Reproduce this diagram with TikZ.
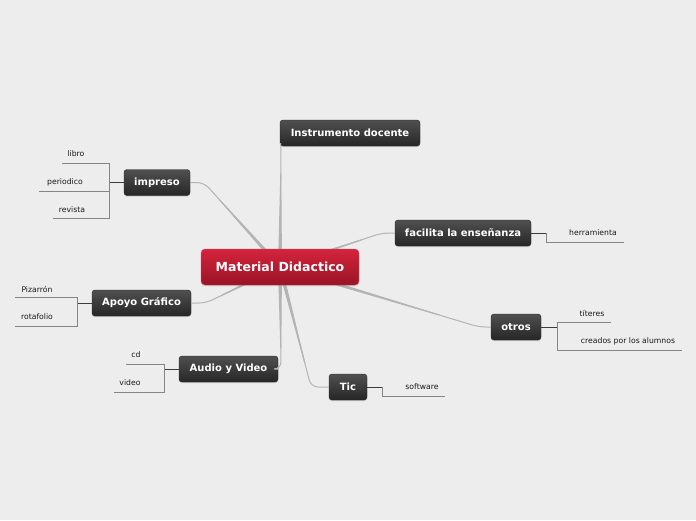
\documentclass[tikz,border=0pt]{standalone}
\usepackage{fontspec}
\setmainfont{DejaVu Sans}
\usetikzlibrary{calc,shadows}
\definecolor{bg}{HTML}{EDEDED}
\definecolor{linkgray}{HTML}{B4B4B4}
\definecolor{stemgray}{HTML}{858585}
\definecolor{stemdark}{HTML}{3C3C3C}
\definecolor{boxtop}{HTML}{505050}
\definecolor{boxbot}{HTML}{262626}
\definecolor{redtop}{HTML}{D4243C}
\definecolor{redbot}{HTML}{9A1326}
\definecolor{redrim}{HTML}{E04A5C}
% tapered link from the centre to a bend point, then on to a branch
\newcommand{\mlink}[2]{%
  \coordinate (tp) at ($(mc)!0.8!(#1)$);
  \fill[linkgray] ($(mc)!2pt!90:(tp)$) -- ($(tp)!0.5pt!-90:(mc)$)
    -- ($(tp)!0.5pt!90:(mc)$) -- ($(mc)!2pt!-90:(tp)$) -- cycle;
  \draw[link] (mc) -- (#1) -- (#2);}
\begin{document}
\begin{tikzpicture}[x=1pt,y=-1pt,
  branch/.style={rounded corners=3pt,top color=boxtop,bottom color=boxbot,
    draw=boxbot,text=white,font=\bfseries\fontsize{10}{12}\selectfont,
    minimum height=26pt,inner xsep=0pt,
    drop shadow={shadow xshift=0pt,shadow yshift=-1.2pt,opacity=0.3}},
  core/.style={rounded corners=4pt,top color=redtop,bottom color=redbot,
    draw=redrim,text=white,font=\bfseries\fontsize{12.5}{15}\selectfont,
    minimum height=36pt,minimum width=158pt,
    drop shadow={shadow xshift=0pt,shadow yshift=-1.2pt,opacity=0.3}},
  leaf/.style={font=\fontsize{7.7}{9}\selectfont,text=black!90,inner sep=0pt},
  link/.style={linkgray,line width=1pt,rounded corners=7pt},
  stem/.style={stemgray,line width=0.8pt},
  dark/.style={stemdark,line width=1pt}]
  \fill[bg] (0,0) rectangle (696,520);
  \coordinate (mc) at (280,267);

  % branches
  \node[branch,minimum width=140pt] (instr) at (350,133) {Instrumento docente};
  \node[branch,minimum width=66pt] (impreso) at (157,182.5) {impreso};
  \node[branch,minimum width=136pt] (facilita) at (463,233) {facilita la enseñanza};
  \node[branch,minimum width=99pt] (apoyo) at (141.5,303) {Apoyo Gráfico};
  \node[branch,minimum width=50pt] (otros) at (516,327) {otros};
  \node[branch,minimum width=99pt] (audio) at (228.5,369) {Audio y Video};
  \node[branch,minimum width=38pt] (tic) at (348,387) {Tic};

  % links from the centre
  \coordinate (b-instr) at (281,150);
  \coordinate (b-impreso) at (204,182.5);
  \coordinate (b-facilita) at (382,233);
  \coordinate (b-apoyo) at (206,303);
  \coordinate (b-otros) at (479,327);
  \coordinate (b-audio) at (281,369);
  \coordinate (b-tic) at (311,387);
  \mlink{b-instr}{[xshift=1pt]instr.south west}
  \mlink{b-impreso}{impreso.east}
  \mlink{b-facilita}{facilita.west}
  \mlink{b-apoyo}{apoyo.east}
  \mlink{b-otros}{otros.west}
  \mlink{b-audio}{audio.east}
  \mlink{b-tic}{tic.west}

  \node[core] (md) at (mc) {Material Didactico};

  % impreso
  \node[leaf] (libro) at (76,154) {libro};
  \node[leaf] (periodico) at (65,182) {periodico};
  \node[leaf] (revista) at (72,210) {revista};
  \draw[dark] (impreso.west) -- (109,182.5);
  \draw[stem] (62,163) -| (109,218) -- (53,218);
  \draw[stem] (39,191) -- (109,191);

  % Apoyo Grafico
  \node[leaf] (pizarron) at (37,289) {Pizarrón};
  \node[leaf] (rotafolio) at (37,317) {rotafolio};
  \draw[dark] (apoyo.west) -- (77,303);
  \draw[stem] (15,297) -| (77,326) -- (15,326);

  % Audio y Video
  \node[leaf] (cd) at (136,355) {cd};
  \node[leaf] (video) at (130,383) {video};
  \draw[dark] (audio.west) -- (164,369);
  \draw[stem] (126,364) -| (164,392) -- (114,392);

  % facilita la ensenanza
  \node[leaf] (herramienta) at (593,233) {herramienta};
  \draw[dark] (facilita.east) -- (546,233);
  \draw[stem] (546,233) |- (624,242);

  % otros
  \node[leaf] (titeres) at (592,313) {títeres};
  \node[leaf] (creados) at (628,341) {creados por los alumnos};
  \draw[dark] (otros.east) -- (557,327);
  \draw[stem] (611,322) -| (557,350) -- (682,350);

  % Tic
  \node[leaf] (software) at (422,387) {software};
  \draw[dark] (tic.east) -- (382,387);
  \draw[stem] (382,387) |- (445,396);
\end{tikzpicture}
\end{document}
